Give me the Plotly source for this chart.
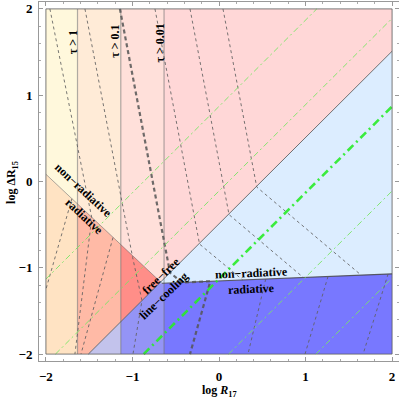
import plotly.graph_objects as go

# ---------------- data ----------------
tau_x = [-1.635, -1.135, -0.635]                 # optical-depth boundaries (log R17)
tau_text = ["τ > 1", "τ > 0.1", "τ > 0.01"]
tau_label_x = [-1.69, -1.20, -0.68]
tau_label_y = [1.61, 1.62, 1.60]

diag_c = -0.49                 # free-free / line-cooling boundary: y = x + diag_c
rad_ff = [-0.942, -1.80]       # radiative boundary (free-free): slope, intercept
rad_lc = [0.0409, -1.152]      # radiative boundary (line cooling): slope, intercept

# fill colours per tau column (left -> right)
ff_nonrad_colors = ["#FFF8DC", "#FFEBD7", "#FFE0DA", "#FFD7D7"]
ff_rad_colors = ["#FFE3C3", "#FFBAA6", "#FF8E88", "#FF8E88"]
lc_nonrad_colors = ["#DCEDFF", "#DCEDFF", "#DCEDFF", "#DCEDFF"]
lc_rad_colors = ["#C3C3EC", "#C3C3EC", "#9494F6", "#7878FF"]

# dashed gray contours (log R17, log dR15)
dash_x = [
    [-1.954, -1.47, -1.665],
    [-1.549, -0.998, -0.89, -0.994],
    [-1.145, -0.566, -0.426, -0.10, -0.335],
    [-0.740, -0.225, 0.274],
    [-0.335, 0.116, 0.974],
    [0.046, 0.436, 1.643],
    [0.54, 0.335], [1.26, 0.994], [1.954, 1.665],
    [-1.70, -2.0],
    [-1.225, -1.595],
]
dash_y = [
    [2, -0.42, -2.0],
    [2, -0.88, -1.38, -2.0],
    [2, -1.056, -1.17, -1.156, -2.0],
    [2, -0.725, -1.141],
    [2, -0.384, -1.112],
    [2, -0.064, -1.085],
    [-1.130, -2.0], [-1.100, -2.0], [-1.072, -2.0],
    [-0.20, -1.25],
    [-0.65, -2.0],
]
dash_thick = [False, False, True, False, False, False, False, False, False, False, False]

# green dash-dot lines y = x + c
green_c = [0.87, -0.11, -1.13, -2.11, -3.12]
green_thick = [False, False, True, False, False]

# ---------------- geometry helpers ----------------
def clip(poly, a, b, c):
    """keep part of polygon where a*x + b*y + c >= 0"""
    out = []
    n = len(poly)
    for i in range(n):
        p, q = poly[i], poly[(i + 1) % n]
        fp = a * p[0] + b * p[1] + c
        fq = a * q[0] + b * q[1] + c
        if fp >= 0:
            out.append(p)
        if (fp >= 0) != (fq >= 0):
            t = fp / (fp - fq)
            out.append((p[0] + t * (q[0] - p[0]), p[1] + t * (q[1] - p[1])))
    return out

square = [(-2, -2), (2, -2), (2, 2), (-2, 2)]
edges = [-2] + tau_x + [2]

fig = go.Figure()

def add_poly(poly, color):
    if len(poly) < 3:
        return
    xs = [p[0] for p in poly] + [poly[0][0]]
    ys = [p[1] for p in poly] + [poly[0][1]]
    fig.add_trace(go.Scatter(x=xs, y=ys, fill="toself", fillcolor=color, mode="lines",
                             line=dict(width=0, color=color), hoverinfo="skip", showlegend=False))

m1, c1 = rad_ff
m2, c2 = rad_lc
for i in range(4):
    col = clip(clip(square, 1, 0, -edges[i]), -1, 0, edges[i + 1])
    ff = clip(col, -1, 1, -diag_c)          # y - x - c >= 0
    lc = clip(col, 1, -1, diag_c)
    add_poly(clip(ff, -m1, 1, -c1), ff_nonrad_colors[i])
    add_poly(clip(ff, m1, -1, c1), ff_rad_colors[i])
    add_poly(clip(lc, -m2, 1, -c2), lc_nonrad_colors[i])
    add_poly(clip(lc, m2, -1, c2), lc_rad_colors[i])

def line(xs, ys, color, width, dash="solid"):
    fig.add_trace(go.Scatter(x=xs, y=ys, mode="lines", line=dict(color=color, width=width, dash=dash),
                             hoverinfo="skip", showlegend=False))

# boundaries
for tx in tau_x:
    line([tx, tx], [-2, 2], "rgba(110,110,110,0.55)", 1.2)
px = (c2 - c1) / (m1 - m2)
line([-2, px], [m1 * -2 + c1, m1 * px + c1], "rgba(90,90,90,0.5)", 1)
line([-2 - diag_c, 2], [-2, 2 + diag_c], "rgba(80,80,80,0.8)", 1)
line([px, 2], [m2 * px + c2, m2 * 2 + c2], "rgba(70,70,70,0.85)", 1.2)

# dashed contours
for xs, ys, th in zip(dash_x, dash_y, dash_thick):
    if th:
        line(xs, ys, "rgba(85,85,85,0.85)", 2.2, "4px,3px")
    else:
        line(xs, ys, "rgba(95,95,95,0.85)", 1, "3px,3px")

# green lines
for c, th in zip(green_c, green_thick):
    x0 = max(-2, -2 - c)
    x1 = min(2, 2 - c)
    if th:
        line([x0, x1], [x0 + c, x1 + c], "rgba(40,235,40,0.9)", 2.6, "8px,4px,2px,4px")
    else:
        line([x0, x1], [x0 + c, x1 + c], "rgba(120,230,100,0.9)", 1, "6px,3px,2px,3px")

# plot region border
line([-2, 2, 2, -2, -2], [-2, -2, 2, 2, -2], "rgba(90,90,90,0.8)", 1)

serif = "Liberation Serif"
F = dict(family=serif, size=12, color="black")
ann = []
for t, x, y in zip(tau_text, tau_label_x, tau_label_y):
    ann.append(dict(x=x, y=y, text="<b>" + t + "</b>", textangle=-90, font=F))
ann += [
    dict(x=-1.57, y=-0.10, text="<b>non−radiative</b>", textangle=43, font=F),
    dict(x=-1.55, y=-0.41, text="<b>radiative</b>", textangle=43, font=F),
    dict(x=-0.67, y=-1.10, text="<b>free−free</b>", textangle=-44, font=F),
    dict(x=-0.64, y=-1.33, text="<b>line−cooling</b>", textangle=-44, font=F),
    dict(x=0.38, y=-1.055, text="<b>non−radiative</b>", textangle=-2.5, font=F),
    dict(x=0.38, y=-1.25, text="<b>radiative</b>", textangle=-2.5, font=F),
    dict(x=0.5, y=-0.084, xref="paper", yref="paper", text="<b>log <i>R</i><sub>17</sub></b>",
         font=dict(family=serif, size=12, color="black")),
    dict(x=-0.075, y=0.496, xref="paper", yref="paper", text="<b>log ΔR<sub>15</sub></b>",
         textangle=-90, font=dict(family=serif, size=12, color="black")),
]
for a in ann:
    a.update(showarrow=False, xanchor="center", yanchor="middle")

tickvals = [-2, -1, 0, 1, 2]
ticktext = ["<b>−2</b>", "<b>−1</b>", "<b>0</b>", "<b>1</b>", "<b>2</b>"]
axis = dict(range=[-2.08, 2.08], tickvals=tickvals, ticktext=ticktext, ticks="inside", ticklen=4,
            showline=True, linecolor="#999", linewidth=1, mirror="ticks", showgrid=False,
            zeroline=False, tickcolor="#999",
            tickfont=dict(family=serif, size=13, color="black"),
            minor=dict(ticks="inside", dtick=0.2, ticklen=2, tickcolor="#aaa"))

fig.update_layout(width=399, height=399, margin=dict(l=39, r=0, t=2, b=38),
                  paper_bgcolor="white", plot_bgcolor="white",
                  xaxis=dict(axis, ticklabelstandoff=3), yaxis=dict(axis, ticklabelstandoff=3),
                  annotations=ann, showlegend=False)
fig.write_html("out.html", config={"displayModeBar": False},
               post_script="document.body.style.margin='0px';document.body.style.overflow='hidden';")
